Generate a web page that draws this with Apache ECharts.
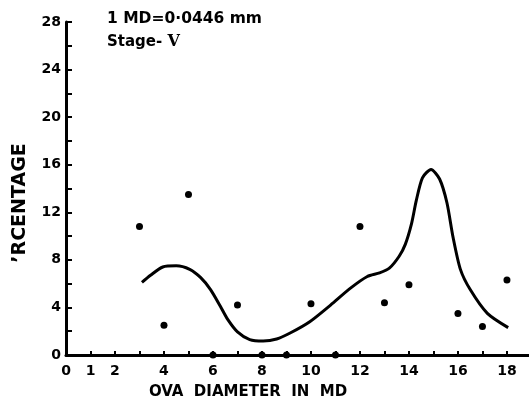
<!DOCTYPE html>
<html>
<head>
<meta charset="utf-8">
<script src="https://cdn.jsdelivr.net/npm/echarts@6/dist/echarts.min.js"></script>
<style>html,body{margin:0;padding:0;background:#fff;}#c{width:529px;height:403px;}</style>
</head>
<body>
<div id="c"></div>
<script>
// Observed frequencies (dots)
var dotX = [3, 4, 5, 6, 7, 8, 9, 10, 11, 12, 13, 14, 16, 17, 18];
var dotY = [10.8, 2.5, 13.5, 0, 4.2, 0, 0, 4.3, 0, 10.8, 4.4, 5.9, 3.5, 2.4, 6.3];
// Fitted curve
var curveX = [3.1, 3.45, 3.95, 4.5, 5.05, 5.5, 5.9, 6.3, 6.6, 7.0, 7.5, 8.05, 8.6, 9.15, 9.95, 10.8, 11.6, 12.3, 12.8, 13.2, 13.6, 13.85, 14.1, 14.3, 14.55, 14.9, 15.25, 15.55, 15.8, 16.1, 16.5, 17.2, 18.05];
var curveY = [6.1, 6.7, 7.4, 7.5, 7.2, 6.5, 5.5, 4.1, 3.0, 1.95, 1.3, 1.18, 1.35, 1.85, 2.8, 4.2, 5.6, 6.6, 6.9, 7.3, 8.3, 9.3, 11.0, 13.0, 14.9, 15.6, 14.8, 12.8, 9.9, 7.2, 5.5, 3.5, 2.3];
var xTickLabels = [0, 1, 2, 4, 6, 8, 10, 12, 14, 16, 18];
var yTickLabels = [0, 4, 8, 12, 16, 20, 24, 28];
var note1 = '1 MD=0\u00B70446 mm';
var note2 = 'Stage- ';
var stageNum = 'V';
var xTitle = 'OVA  DIAMETER  IN  MD';
var yTitle = '\u2019RCENTAGE';

var chart = echarts.init(document.getElementById('c'), null, {renderer: 'canvas'});
var font = '"DejaVu Sans", sans-serif';
chart.setOption({
  backgroundColor: '#fff',
  animation: false,
  grid: {left: 66, right: 0, top: 22, bottom: 48, containLabel: false},
  xAxis: {
    type: 'value', min: 0, max: 18.9, interval: 1,
    axisLine: {show: true, onZero: false, lineStyle: {color: '#000', width: 3}},
    axisTick: {show: true, inside: true, length: 4, lineStyle: {color: '#000', width: 2}},
    splitLine: {show: false},
    axisLabel: {
      color: '#000', fontFamily: font, fontWeight: 'bold', fontSize: 14, margin: 9,
      showMaxLabel: false,
      formatter: function (v) { return xTickLabels.indexOf(v) >= 0 ? String(v) : ''; }
    }
  },
  yAxis: {
    type: 'value', min: 0, max: 28, interval: 2,
    axisLine: {show: true, lineStyle: {color: '#000', width: 3}},
    axisTick: {show: true, inside: true, length: 6, lineStyle: {color: '#000', width: 2}},
    splitLine: {show: false},
    axisLabel: {
      color: '#000', fontFamily: font, fontWeight: 'bold', fontSize: 14, margin: 5,
      formatter: function (v) { return yTickLabels.indexOf(v) >= 0 ? String(v) : ''; }
    }
  },
  graphic: [
    {type: 'text', left: 107, top: 11, style: {text: note1, font: 'bold 15.5px ' + font, fill: '#000'}},
    {type: 'text', left: 107, top: 34, style: {
      text: '{a|' + note2 + '}{b|' + stageNum + '}',
      rich: {a: {font: 'bold 15px ' + font, fill: '#000'}, b: {font: 'bold 16px "DejaVu Serif", serif', fill: '#000'}}
    }},
    {type: 'text', x: 248, y: 392, style: {text: xTitle, font: 'bold 15px ' + font, fill: '#000', textAlign: 'center', textVerticalAlign: 'middle'}},
    {type: 'text', x: 20, y: 203, rotation: Math.PI / 2, style: {text: yTitle, font: 'bold 19px ' + font, fill: '#000', textAlign: 'center', textVerticalAlign: 'middle'}}
  ],
  series: [
    {
      type: 'line', smooth: 0.25, showSymbol: false, symbol: 'none',
      lineStyle: {color: '#000', width: 3},
      data: curveX.map(function (x, i) { return [x, curveY[i]]; }),
      z: 3
    },
    {
      type: 'scatter', symbol: 'circle', symbolSize: 7,
      itemStyle: {color: '#000', opacity: 1},
      data: dotX.map(function (x, i) { return [x, dotY[i]]; }),
      z: 4
    }
  ]
});
</script>
</body>
</html>
